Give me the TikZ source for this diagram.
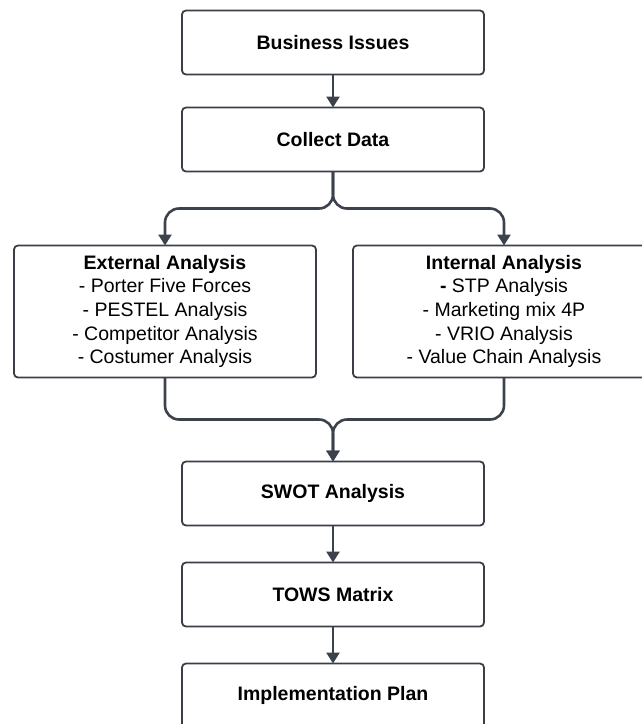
\documentclass[tikz,border=0pt]{standalone}
\usepackage{fontspec}
\setmainfont{Liberation Sans}
\usepackage{tikz}
\usetikzlibrary{positioning,arrows.meta,calc}

\definecolor{boxline}{HTML}{3A3F47}
\definecolor{flowline}{HTML}{3C424C}

\begin{document}
\begin{tikzpicture}[
  x=1pt, y=1pt,
  node distance=33pt,
  box/.style={draw=boxline, line width=1.8pt, rounded corners=4pt,
              minimum width=302pt, minimum height=64pt, outer sep=0pt,
              font=\fontsize{19.5}{23.7}\selectfont, align=center,
              fill=white},
  listbox/.style={box, minimum height=132pt},
  flow/.style={-{Triangle[length=11pt, width=13pt]}, line width=2.6pt,
               flowline, rounded corners=14pt}
]
  \useasboundingbox (0,0) rectangle (642,-724);

  % Top chain
  \node[box] at (333,-42.5) (biz) {\textbf{Business Issues}};
  \node[box, below=33pt of biz] (collect) {\textbf{Collect Data}};

  % Analysis columns
  \node[listbox, below=74pt of collect, xshift=-168pt] (ext)
    {\textbf{External Analysis}\\- Porter Five Forces\\- PESTEL Analysis\\
     - Competitor Analysis\\- Costumer Analysis};
  \node[listbox, below=74pt of collect, xshift=171pt] (int)
    {\textbf{Internal Analysis}\\\textbf{-} STP Analysis\\- Marketing mix 4P\\
     - VRIO Analysis\\- Value Chain Analysis};

  % Bottom chain
  \node[box, below=84pt of ext, xshift=168pt] (swot) {\textbf{SWOT Analysis}};
  \node[box, below=37pt of swot] (tows) {\textbf{TOWS Matrix}};
  \node[box, below=37pt of tows] (impl) {\textbf{Implementation Plan}};

  % Fork and join points
  \coordinate (fork) at ($(collect.south)!.5!(collect.south |- ext.north)$);
  \coordinate (join) at ($(swot.north)!.5!(swot.north |- ext.south)$);

  % Connectors
  \draw[flow] (biz) -- (collect);
  \draw[flow] (collect.south) -- (fork) -| (ext.north);
  \draw[flow] (collect.south) -- (fork) -| (int.north);
  \draw[flow] (ext.south) |- (join) -- (swot.north);
  \draw[flow] (int.south) |- (join) -- (swot.north);
  \draw[flow] (swot) -- (tows);
  \draw[flow] (tows) -- (impl);
\end{tikzpicture}
\end{document}
